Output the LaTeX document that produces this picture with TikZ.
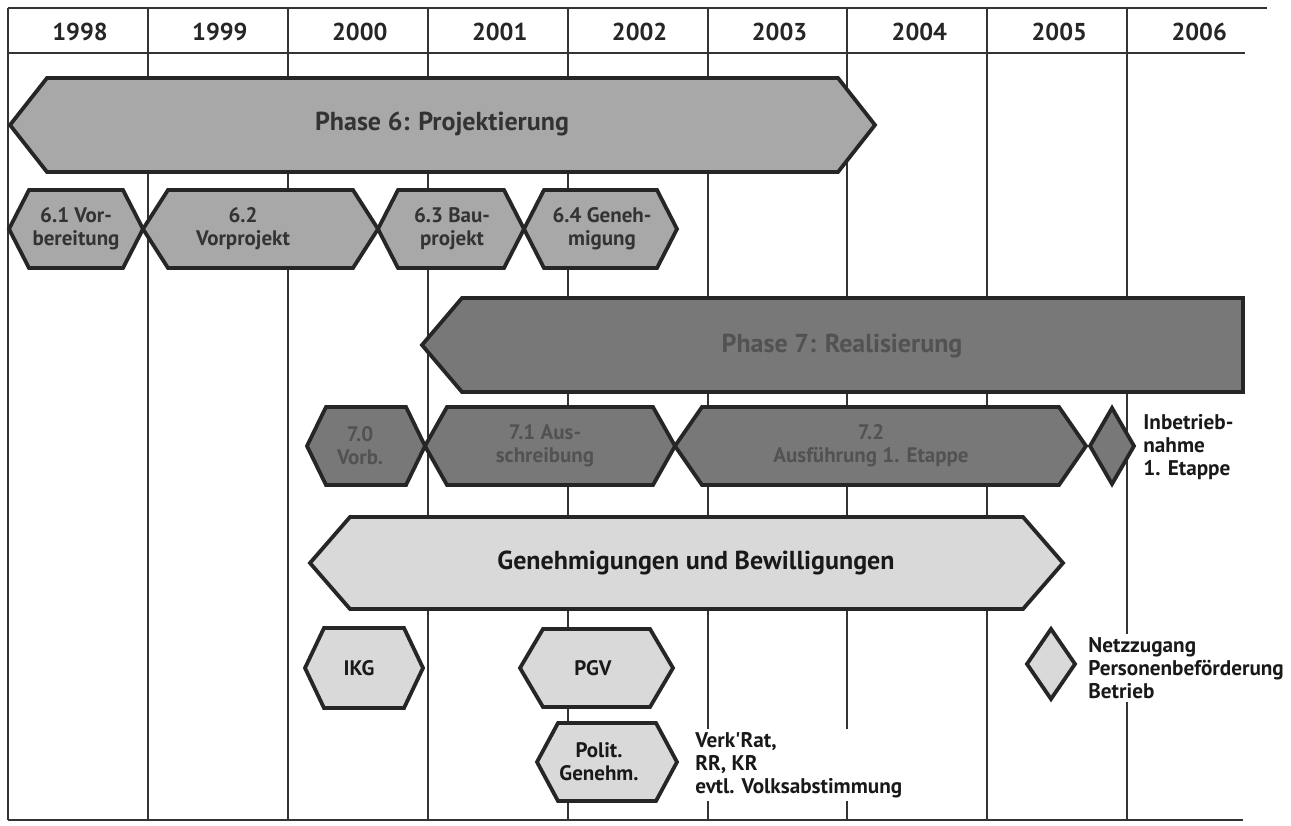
\documentclass[tikz,border=0pt]{standalone}
\usepackage{fontspec}
\setmainfont{PT Sans}
\tikzset{
  yearline/.style={draw=black!80, line width=1pt},
  phasebox/.style={draw=black!85, line width=1.9pt, line join=miter},
  ph6/.style={phasebox, fill=black!34},
  ph7/.style={phasebox, fill=black!53},
  gen/.style={phasebox, fill=black!15},
  year/.style={font=\bfseries\fontsize{12.2}{14}\selectfont, text=black!85},
  title/.style={font=\bfseries\fontsize{13}{15}\selectfont, text=black!80},
  lbl/.style={font=\bfseries\fontsize{10.5}{11.5}\selectfont, align=center, text=black!80, inner sep=0pt},
  side/.style={font=\bfseries\fontsize{10.6}{11.6}\selectfont, align=left, text=black!90, inner sep=1.5pt, anchor=west},
}
% hexagon bar: style, left tip, right tip, y centre, half height, tip width
\newcommand{\hexbar}[6]{\draw[#1] (#2,#4) -- (#2+#6,#4-#5) -- (#3-#6,#4-#5) -- (#3,#4) -- (#3-#6,#4+#5) -- (#2+#6,#4+#5) -- cycle;}
\begin{document}
\begin{tikzpicture}[x=0.5pt,y=-0.5pt]
\useasboundingbox (0,0) rectangle (1291,825);
% year grid
\draw[yearline] (8,8) -- (1267,8);
\draw[yearline] (8,53) -- (1245,53);
\draw[yearline] (8,820) -- (1243,820);
\foreach \i in {0,...,8} {
\draw[yearline] ({8+139.9*\i},8) -- ({8+139.9*\i},820);
}
\foreach \yr [count=\i from 0] in {1998,...,2006} {
\node[year] (y\yr) at ({80+139.9*\i},32) {\yr};
}
% phase 6
\hexbar{ph6}{10}{875}{125}{47}{37}
\node[title] (phase6) at (442,124) {Phase 6: Projektierung};
\hexbar{ph6}{9}{143}{229}{39}{20}
\hexbar{ph6}{143}{378}{229}{39}{25}
\hexbar{ph6}{378}{524}{229}{39}{20}
\hexbar{ph6}{524}{677}{229}{39}{20}
\node[lbl] (p61) at (76,229) {6.1 Vor-\\bereitung};
\node[lbl] (p62) at (243,229) {6.2\\Vorprojekt};
\node[lbl] (p63) at (452,229) {6.3 Bau-\\projekt};
\node[lbl] (p64) at (602,229) {6.4 Geneh-\\migung};
% phase 7
\draw[ph7] (422,345) -- (462,298) -- (1243,298) -- (1243,392) -- (462,392) -- cycle;
\node[title,text=black!68] (phase7) at (842,346) {Phase 7: Realisierung};
\hexbar{ph7}{307}{425}{446}{39}{19}
\hexbar{ph7}{425}{675}{446}{39}{22}
\hexbar{ph7}{675}{1086}{446}{39}{27}
\node[lbl,text=black!68] (p70) at (360,446) {7.0\\Vorb.};
\node[lbl,text=black!68] (p71) at (545,446) {7.1 Aus-\\schreibung};
\node[lbl,text=black!68] (p72) at (871,446) {7.2\\Ausführung 1. Etappe};
\draw[ph7] (1090,446) -- (1112,408) -- (1134,446) -- (1112,484) -- cycle;
\node[side] (ibn) at (1140,447) {Inbetrieb-\\nahme\\1. Etappe};
% approvals
\hexbar{gen}{310}{1063}{563}{46}{40}
\node[title,text=black!90] (genbew) at (696,563) {Genehmigungen und Bewilligungen};
\hexbar{gen}{305}{423}{668}{40}{19}
\hexbar{gen}{520}{673}{668}{39}{23}
\hexbar{gen}{537}{677}{762}{39}{21}
\node[lbl,text=black!90] (ikg) at (359,668) {IKG};
\node[lbl,text=black!90] (pgv) at (593,668) {PGV};
\node[lbl,text=black!90] (polit) at (599,762) {Polit.\\Genehm.};
\node[side,fill=white] (verk) at (692,765) {Verk\textquotesingle Rat,\\RR, KR\\evtl. Volksabstimmung};
\draw[gen] (1027,664) -- (1051,629) -- (1075,664) -- (1051,699) -- cycle;
\node[side,fill=white] (netz) at (1085,668) {Netzzugang\\Personenbeförderung\\Betrieb};
\end{tikzpicture}
\end{document}
